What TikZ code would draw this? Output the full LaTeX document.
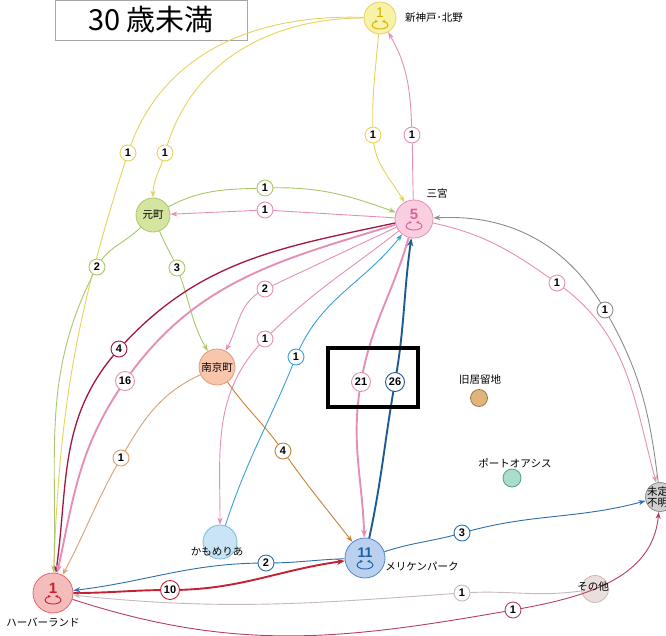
\documentclass[tikz,border=0pt]{standalone}
\usepackage{fontspec}
\setmainfont{Noto Sans CJK JP}
\newfontfamily\numf{Liberation Sans}
\usetikzlibrary{arrows.meta,calc}
\definecolor{yel}{HTML}{E6D35E}
\definecolor{yelfill}{HTML}{F8F2A8}
\definecolor{yeltxt}{HTML}{D4B000}
\definecolor{pnk}{HTML}{E58FB8}
\definecolor{pnkfill}{HTML}{F9CFE0}
\definecolor{pnktxt}{HTML}{E0609A}
\definecolor{grn}{HTML}{A9C76A}
\definecolor{grnfill}{HTML}{D5E5A0}
\definecolor{drd}{HTML}{A3173F}
\definecolor{lbl}{HTML}{3BA0D3}
\definecolor{dbl}{HTML}{1E5B94}
\definecolor{nkfill}{HTML}{F7C6AC}
\definecolor{nkbor}{HTML}{E09A7A}
\definecolor{lor}{HTML}{DBA070}
\definecolor{orn}{HTML}{C9803A}
\definecolor{gry}{HTML}{8C8C8C}
\definecolor{blu}{HTML}{2B6FAA}
\definecolor{mefill}{HTML}{B9D0EE}
\definecolor{mebor}{HTML}{5588C8}
\definecolor{metxt}{HTML}{1F5FA8}
\definecolor{hbfill}{HTML}{F5BCBC}
\definecolor{hbbor}{HTML}{E06A6A}
\definecolor{hbtxt}{HTML}{C8202F}
\definecolor{red}{HTML}{C62034}
\definecolor{lbr}{HTML}{C9B8B8}
\definecolor{sofill}{HTML}{E9DFDC}
\definecolor{mau}{HTML}{B3405F}
\definecolor{mifill}{HTML}{D0D0D0}
\definecolor{kafill}{HTML}{C8E4F5}
\definecolor{kabor}{HTML}{7BB8DC}
\definecolor{kkfill}{HTML}{E0B47C}
\definecolor{kkbor}{HTML}{A07848}
\definecolor{pofill}{HTML}{ACDCCC}
\definecolor{pobor}{HTML}{50A088}
\newcommand\nodeloop[2]{%
  \draw[#2,line width=0.9pt] ($(#1)+(-8,-7)$) arc[start angle=180,end angle=360,x radius=8,y radius=4];
  \draw[#2,line width=0.9pt,-{Stealth[length=3pt,width=3pt]}] ($(#1)+(-8,-7)$) arc[start angle=180,end angle=105,x radius=8,y radius=4];
  \draw[#2,line width=0.9pt,-{Stealth[length=3pt,width=3pt]}] ($(#1)+(8,-7)$) arc[start angle=0,end angle=75,x radius=8,y radius=4];
}
\tikzset{
  x=1pt,y=1pt,
  place/.style={circle,draw,line width=0.8pt,inner sep=0pt},
  lab/.style={circle,draw,line width=0.9pt,fill=white,inner sep=0pt,minimum size=16pt,font=\numf\bfseries\fontsize{11}{11}\selectfont},
  lab2/.style={lab,minimum size=19pt},
  tag/.style={font=\fontsize{10.5}{11}\selectfont,inner sep=0pt},
  edge/.style={line width=0.9pt,-{Stealth[length=7pt,width=5pt]}},
  thick edge/.style={edge,line width=1.9pt,-{Stealth[length=8pt,width=6pt]}},
}
\begin{document}
\begin{tikzpicture}
\useasboundingbox (0,0) rectangle (666,-635);
\clip (0,0) rectangle (666,-635);
\fill[white] (0,0) rectangle (666,-635);
% title
\node[draw=gray!70,line width=0.6pt,minimum width=192pt,minimum height=40pt,font=\fontsize{29}{30}\selectfont] (title) at (151,-20) {30 歳未満};
% places
\node[place,draw=yel,fill=yelfill,minimum size=32pt] (sk) at (380,-18) {};
\node[place,draw=pnk,fill=pnkfill,minimum size=38pt] (sn) at (414,-219) {};
\node[place,draw=grn,fill=grnfill,minimum size=34pt,font=\fontsize{10.5}{11}\selectfont] (mo) at (153,-215) {元町};
\node[place,draw=nkbor,fill=nkfill,minimum size=36pt,font=\fontsize{10.5}{11}\selectfont] (nk) at (217,-367) {南京町};
\node[place,draw=kkbor,fill=kkfill,minimum size=17pt] (kk) at (479,-398) {};
\node[place,draw=pobor,fill=pofill,minimum size=18pt] (po) at (512,-478) {};
\node[place,draw=gry,fill=mifill,minimum size=29pt] (mi) at (660,-497) {};
\node[place,draw=kabor,fill=kafill,minimum size=34pt] (ka) at (220,-542) {};
\node[place,draw=mebor,fill=mefill,minimum size=40pt] (me) at (365,-558) {};
\node[place,draw=hbbor,fill=hbfill,minimum size=40pt] (hb) at (53,-593) {};
\node[place,draw=lbr,fill=sofill,minimum size=27pt] (so) at (595,-589) {};
% label coordinates
\coordinate (L1) at (165,-153);
\coordinate (L2) at (128,-153);
\coordinate (L3) at (373,-135);
\coordinate (L4) at (412,-135);
\coordinate (L5) at (265,-188);
\coordinate (L6) at (265,-210);
\coordinate (L7) at (97,-267);
\coordinate (L8) at (177,-268);
\coordinate (L9) at (119,-349);
\coordinate (L10) at (125,-381);
\coordinate (L11) at (265,-289);
\coordinate (L12) at (265,-339);
\coordinate (L13) at (296,-357);
\coordinate (L14) at (361,-382);
\coordinate (L15) at (395,-382);
\coordinate (L16) at (121,-458);
\coordinate (L17) at (283,-451);
\coordinate (L18) at (557,-283);
\coordinate (L19) at (605,-310);
\coordinate (L20) at (462,-533);
\coordinate (L21) at (266,-563);
\coordinate (L22) at (170,-590);
\coordinate (L23) at (462,-593);
\coordinate (L24) at (513,-610);
% edges
\draw[edge,yel] (sk) to[out=180,in=75] (L1) to[out=-105,in=90] (mo);
\draw[edge,yel] (sk) to[out=178,in=72] (L2) to[out=-108,in=88] (hb);
\draw[edge,yel] (sk) to[out=-95,in=92] (L3) to[out=-88,in=120] (sn);
\draw[edge,pnk] (sn) to[out=92,in=-88] (L4) to[out=92,in=-60] (sk);
\draw[edge,grn] (mo) to[out=28,in=182] (L5) to[out=2,in=160] (sn);
\draw[edge,pnk] (sn) -- (L6) -- (mo);
\draw[edge,grn] (mo) to[out=-135,in=62] (L7) to[out=-118,in=88] (hb);
\draw[edge,grn] (mo) to[out=-68,in=112] (L8) to[out=-68,in=120] (nk);
\draw[edge,drd,line width=1.3pt] (sn) to[out=192,in=48] (L9) to[out=-132,in=82] (hb);
\draw[thick edge,pnk] (sn) to[out=197,in=55] (L10) to[out=-125,in=78] (hb);
\draw[edge,pnk] (sn) to[out=205,in=25] (L11) to[out=-155,in=62] (nk);
\draw[edge,pnk] (sn) to[out=218,in=45] (L12) to[out=-135,in=90] (ka);
\draw[edge,lbl] (ka) to[out=72,in=-112] (L13) to[out=68,in=-128] (sn);
\draw[thick edge,pnk] (sn) to[out=-106,in=80] (L14) to[out=-100,in=92] (me);
\draw[thick edge,dbl] (me) to[out=78,in=-100] (L15) to[out=80,in=-98] (sn);
\draw[edge,lor] (nk) to[out=205,in=60] (L16) to[out=-120,in=62] (hb);
\draw[edge,orn] (nk) to[out=-55,in=125] (L17) to[out=-55,in=128] (me);
\draw[edge,pnk] (sn) to[out=-12,in=145] (L18) to[out=-35,in=105] (mi);
\draw[edge,gry] (mi) to[out=97,in=-60] (L19) to[out=120,in=3] (sn);
\draw[edge,blu] (me) to[out=18,in=196] (L20) to[out=16,in=195] (mi);
\draw[edge,blu] (me) to[out=182,in=0] (L21) to[out=180,in=7] (hb);
\draw[thick edge,red] (hb) to[out=0,in=180] (L22) to[out=0,in=188] (me);
\draw[edge,lbr] (so) to[out=188,in=4] (L23) to[out=184,in=-6] (hb);
\draw[edge,mau] (hb) to[out=-18,in=190] (L24) to[out=10,in=-95] (mi);
% edge labels
\node[lab,draw=yel] (n1) at (L1) {1};
\node[lab,draw=yel] (n2) at (L2) {1};
\node[lab,draw=yel] (n3) at (L3) {1};
\node[lab,draw=pnk] (n4) at (L4) {1};
\node[lab,draw=grn] (n5) at (L5) {1};
\node[lab,draw=pnk] (n6) at (L6) {1};
\node[lab,draw=grn] (n7) at (L7) {2};
\node[lab,draw=grn] (n8) at (L8) {3};
\node[lab,draw=drd] (n9) at (L9) {4};
\node[lab2,draw=pnk] (n10) at (L10) {16};
\node[lab,draw=pnk] (n11) at (L11) {2};
\node[lab,draw=pnk] (n12) at (L12) {1};
\node[lab,draw=lbl] (n13) at (L13) {1};
\node[lab2,draw=pnk] (n14) at (L14) {21};
\node[lab2,draw=dbl] (n15) at (L15) {26};
\node[lab,draw=lor] (n16) at (L16) {1};
\node[lab,draw=orn] (n17) at (L17) {4};
\node[lab,draw=pnk] (n18) at (L18) {1};
\node[lab,draw=gry] (n19) at (L19) {1};
\node[lab,draw=blu] (n20) at (L20) {3};
\node[lab,draw=blu] (n21) at (L21) {2};
\node[lab2,draw=red] (n22) at (L22) {10};
\node[lab,draw=lbr] (n23) at (L23) {1};
\node[lab,draw=mau] (n24) at (L24) {1};
% node contents
\node[font=\numf\fontsize{14}{14}\selectfont,text=yeltxt] (skn) at ($(sk)+(0,5)$) {1};
\nodeloop{sk}{yeltxt}
\node[font=\numf\bfseries\fontsize{15}{15}\selectfont,text=pnktxt] (snn) at ($(sn)+(0,5)$) {5};
\nodeloop{sn}{pnktxt}
\node[font=\numf\bfseries\fontsize{14}{14}\selectfont,text=metxt] (men) at ($(me)+(0,5)$) {11};
\nodeloop{me}{metxt}
\node[font=\numf\bfseries\fontsize{15}{15}\selectfont,text=hbtxt] (hbn) at ($(hb)+(0,5)$) {1};
\nodeloop{hb}{hbtxt}
\node[tag,align=center,anchor=west,font=\fontsize{10.5}{11}\selectfont] (mit) at (647,-497) {未定\\不明};
\node[tag] (sot) at (593,-586) {その他};
% place names
\node[tag] (skt) at (434,-18) {新神戸･北野};
\node[tag] (snt) at (437,-193) {三宮};
\node[tag] (kkt) at (480,-380) {旧居留地};
\node[tag] (pot) at (515,-463) {ポートオアシス};
\node[tag] (kat) at (217,-552) {かもめりあ};
\node[tag] (met) at (422,-566) {メリケンパーク};
\node[tag] (hbt) at (43,-622) {ハーバーランド};
% highlight box
\node[draw=black,line width=4pt,minimum width=90pt,minimum height=59pt,inner sep=0pt] (hl) at (373,-377) {};
\end{tikzpicture}
\end{document}
